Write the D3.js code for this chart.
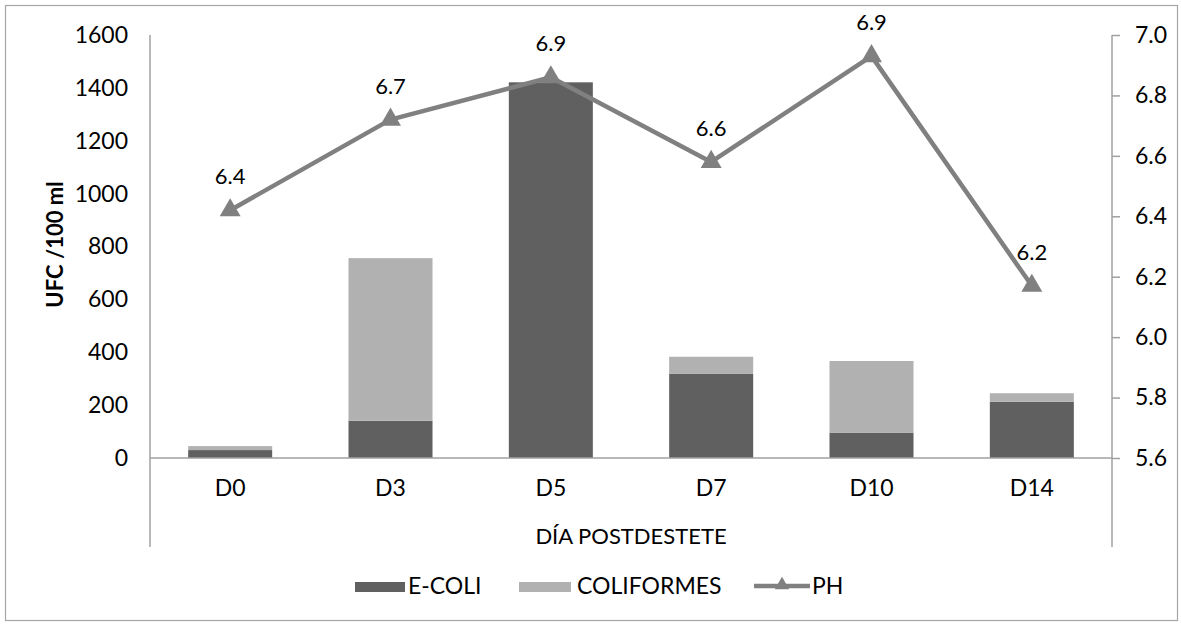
<!DOCTYPE html>
<html>
<head>
<meta charset="utf-8">
<script src="https://cdn.jsdelivr.net/npm/d3@7/dist/d3.min.js"></script>
<style>
  html, body { margin: 0; padding: 0; background: #fff; }
  svg text { font-family: "Century Gothic", "Lato", "Open Sans", sans-serif; fill: #000; }
</style>
</head>
<body>
<svg id="chart" width="1181" height="624"></svg>
<script>
// Days after weaning
const categories = ["D0", "D3", "D5", "D7", "D10", "D14"];
// Colony counts (UFC / 100 ml)
const ecoli = [30, 141, 1421, 318, 96, 213];
const coliformes = [15, 615, 0, 65, 271, 32];
// pH of the sample
const ph = [6.42, 6.72, 6.86, 6.58, 6.93, 6.17];
// Axis ticks
const leftTicks = [0, 200, 400, 600, 800, 1000, 1200, 1400, 1600];
const rightTicks = [5.6, 5.8, 6.0, 6.2, 6.4, 6.6, 6.8, 7.0];

const colEcoli = "#606060";
const colColi = "#b1b1b1";
const colPh = "#808080";
const axisCol = "#a0a0a0";
const fs = "23px";

const svg = d3.select("#chart");
const plot = { left: 150, right: 1112, top: 35, bottom: 458 };

// outer frame
svg.append("rect")
  .attr("x", 5.5).attr("y", 5.5)
  .attr("width", 1172).attr("height", 615)
  .attr("fill", "#fff").attr("stroke", "#a6a6a6").attr("stroke-width", 1.2);

const x = d3.scaleBand()
  .domain(categories)
  .range([plot.left, plot.right])
  .paddingInner(0.476)
  .paddingOuter(0.238);

const y = d3.scaleLinear().domain([0, 1600]).range([plot.bottom, plot.top]);
const y2 = d3.scaleLinear().domain([5.6, 7.0]).range([plot.bottom, plot.top]);

// stacked bars
const rows = categories.map((c, i) => ({ cat: c, ecoli: ecoli[i], coliformes: coliformes[i] }));
const stacked = d3.stack().keys(["ecoli", "coliformes"])(rows);
const colors = { ecoli: colEcoli, coliformes: colColi };

svg.append("g").selectAll("g")
  .data(stacked)
  .join("g")
  .attr("fill", d => colors[d.key])
  .selectAll("rect")
  .data(d => d)
  .join("rect")
  .attr("x", d => x(d.data.cat))
  .attr("width", x.bandwidth())
  .attr("y", d => y(d[1]))
  .attr("height", d => y(d[0]) - y(d[1]));

// left axis (no tick marks)
const gLeft = svg.append("g")
  .attr("transform", `translate(${plot.left},0)`)
  .call(d3.axisLeft(y).tickValues(leftTicks).tickSize(0).tickPadding(22).tickFormat(d3.format("d")));
gLeft.select(".domain").remove();
gLeft.selectAll("text").style("font-size", fs);

// right axis
const gRight = svg.append("g")
  .attr("transform", `translate(${plot.right},0)`)
  .call(d3.axisRight(y2).tickValues(rightTicks).tickSize(8).tickPadding(15).tickFormat(d3.format(".1f")));
gRight.select(".domain").remove();
gRight.selectAll("line").attr("stroke", axisCol).attr("stroke-width", 1.5);
gRight.selectAll("text").style("font-size", fs);

// vertical frame lines of the axes, extended through the category label area
svg.append("line")
  .attr("x1", plot.left).attr("x2", plot.left)
  .attr("y1", plot.top).attr("y2", 547)
  .attr("stroke", axisCol).attr("stroke-width", 1.5);
svg.append("line")
  .attr("x1", plot.right).attr("x2", plot.right)
  .attr("y1", plot.top).attr("y2", 547)
  .attr("stroke", axisCol).attr("stroke-width", 1.5);

// category axis
const gBottom = svg.append("g")
  .attr("transform", `translate(0,${plot.bottom})`)
  .call(d3.axisBottom(x).tickSize(0).tickPadding(22));
gBottom.select(".domain").remove();
gBottom.selectAll("text").style("font-size", fs);
svg.append("line")
  .attr("x1", plot.left).attr("x2", plot.right)
  .attr("y1", plot.bottom).attr("y2", plot.bottom)
  .attr("stroke", axisCol).attr("stroke-width", 1.5);

// axis titles
svg.append("text")
  .attr("x", (plot.left + plot.right) / 2).attr("y", 544)
  .attr("text-anchor", "middle")
  .style("font-size", "22px")
  .text("DÍA POSTDESTETE");

svg.append("text")
  .attr("transform", `translate(63,${(plot.top + plot.bottom) / 2 - 2}) rotate(-90)`)
  .attr("text-anchor", "middle")
  .style("font-size", "22px").style("font-weight", "bold")
  .text("UFC /100 ml");

// pH line
const cx = (c) => x(c) + x.bandwidth() / 2;
const line = d3.line().x((d, i) => cx(categories[i])).y(d => y2(d));
svg.append("path")
  .datum(ph)
  .attr("d", line)
  .attr("fill", "none")
  .attr("stroke", colPh)
  .attr("stroke-width", 4.5)
  .attr("stroke-linejoin", "round");

const tri = d3.symbol().type(d3.symbolTriangle).size(190);
svg.append("g").selectAll("path")
  .data(ph)
  .join("path")
  .attr("d", tri)
  .attr("transform", (d, i) => `translate(${cx(categories[i])},${y2(d)})`)
  .attr("fill", colPh);

// pH value labels
svg.append("g").selectAll("text")
  .data(ph)
  .join("text")
  .attr("x", (d, i) => cx(categories[i]))
  .attr("y", d => y2(d) - 26)
  .attr("text-anchor", "middle")
  .style("font-size", "22px")
  .text(d => d3.format(".1f")(d));

// legend
const leg = svg.append("g");
const legY = 587;
leg.append("rect").attr("x", 355).attr("y", legY - 5).attr("width", 50).attr("height", 10).attr("fill", colEcoli);
leg.append("text").attr("x", 408).attr("y", legY + 7).style("font-size", fs).text("E-COLI");
leg.append("rect").attr("x", 519).attr("y", legY - 5).attr("width", 52).attr("height", 10).attr("fill", colColi);
leg.append("text").attr("x", 577).attr("y", legY + 7).style("font-size", fs).text("COLIFORMES");
leg.append("line").attr("x1", 754).attr("x2", 810).attr("y1", legY - 1).attr("y2", legY - 1)
  .attr("stroke", colPh).attr("stroke-width", 4.5);
leg.append("path").attr("d", d3.symbol().type(d3.symbolTriangle).size(90))
  .attr("transform", `translate(782,${legY - 2})`).attr("fill", colPh);
leg.append("text").attr("x", 812).attr("y", legY + 7).style("font-size", fs).text("PH");
</script>
</body>
</html>
